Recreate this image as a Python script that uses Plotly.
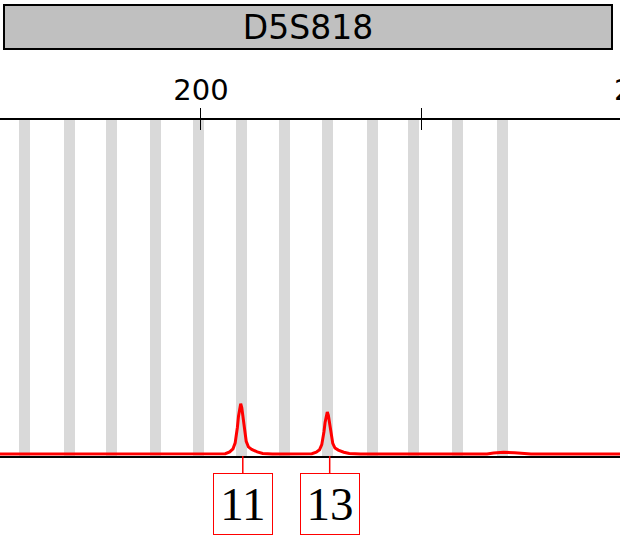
import plotly.graph_objects as go

# ---------------- data ----------------
marker_name = "D5S818"
x_range = [181.73, 238.09]          # bp visible
y_range = [0, 4000]                  # RFU

tick_vals = [200, 220]
tick_text = ["200", ""]
offscale_tick = 240

bin_alleles = ["6", "7", "8", "9", "10", "11", "12", "13", "14", "15", "16", "17"]
bin_bp = [183.96, 188.05, 191.91, 195.82, 199.73, 203.68,
          207.59, 211.50, 215.55, 219.34, 223.34, 227.44]

trace_bp = [181.73, 202.21, 202.61, 202.91, 203.11, 203.21, 203.31, 203.41, 203.51,
            203.61, 203.71, 203.81, 203.91, 204.01, 204.11, 204.31, 204.61, 205.11,
            205.61, 206.50,
            210.08, 210.48, 210.78, 210.98, 211.08, 211.18, 211.28, 211.38,
            211.48, 211.58, 211.68, 211.78, 211.88, 211.98, 212.18, 212.48,
            212.98, 213.48, 214.50,
            226.00, 226.60, 227.50, 228.50, 229.30, 230.00, 238.09]
trace_rfu = [25, 28, 49, 85, 157, 234, 342, 474, 575,
             623, 575, 474, 342, 234, 175, 109, 79, 49,
             31, 25,
             27, 45, 75, 135, 199, 289, 399, 483,
             523, 483, 399, 289, 199, 150, 95, 70,
             45, 30, 25,
             25, 35, 45, 38, 27, 25, 25]

allele_calls = ["11", "13"]
allele_call_bp = [203.80, 211.70]

# ---------------- figure ----------------
W, H = 620, 544
M_TOP, M_BOT = 120, 88

fig = go.Figure()

fig.add_trace(go.Bar(
    x=bin_bp, y=[y_range[1]] * len(bin_bp), width=1.0,
    marker=dict(color="#D9D9D9", line=dict(width=0)),
    hoverinfo="skip", showlegend=False,
))

fig.add_trace(go.Scatter(
    x=trace_bp, y=trace_rfu, mode="lines",
    line=dict(color="#FF0000", width=3),
    hoverinfo="skip", showlegend=False, cliponaxis=True,
))

# invisible trace on overlay axis so it is drawn
fig.add_trace(go.Scatter(x=[x_range[0]], y=[0], xaxis="x2", mode="markers",
                         marker=dict(opacity=0), showlegend=False, hoverinfo="skip"))

tick_font = dict(family="DejaVu Sans", size=29, color="black")

fig.update_layout(
    width=W, height=H,
    margin=dict(l=0, r=0, t=M_TOP, b=M_BOT, pad=0),
    paper_bgcolor="white", plot_bgcolor="white",
    bargap=0,
    xaxis=dict(
        range=x_range, side="top", showline=True, linecolor="black", linewidth=2,
        mirror=True, tickmode="array", tickvals=tick_vals, ticktext=tick_text,
        ticks="outside", ticklen=10, tickwidth=1, tickcolor="black",
        showgrid=False, zeroline=False, tickfont=tick_font, fixedrange=True,
        ticklabelstandoff=-4,
    ),
    xaxis2=dict(
        range=x_range, overlaying="x", side="top", tickmode="array",
        tickvals=tick_vals, ticks="inside", ticklen=10, tickwidth=1,
        tickcolor="black", showticklabels=False, showline=False,
        showgrid=False, zeroline=False, fixedrange=True,
    ),
    yaxis=dict(range=y_range, visible=False, fixedrange=True),
)

plot_h = H - M_TOP - M_BOT

# header box
fig.add_annotation(
    xref="paper", yref="paper", x=308 / W, y=1 + (M_TOP - 27) / plot_h,
    text=marker_name, showarrow=False,
    font=dict(family="DejaVu Sans", size=33, color="black"),
    bgcolor="#C0C0C0", bordercolor="black", borderwidth=2, borderpad=0,
    width=606, height=42, xanchor="center", yanchor="middle",
)

# partially visible next tick label
fig.add_annotation(
    xref="paper", yref="paper",
    x=(offscale_tick - x_range[0]) / (x_range[1] - x_range[0]),
    y=1 + (M_TOP - 90) / plot_h,
    text=str(offscale_tick), showarrow=False, font=tick_font,
    xanchor="center", yanchor="middle",
)

# allele call labels
for name, bp in zip(allele_calls, allele_call_bp):
    fig.add_annotation(
        x=bp, y=0, xref="x", yref="y", text=name,
        showarrow=True, arrowhead=0, arrowcolor="#FF0000", arrowwidth=1.5,
        ax=0, ay=48, standoff=0, startstandoff=0,
        font=dict(family="Liberation Serif", size=47, color="black"),
        bgcolor="white", bordercolor="#FF0000", borderwidth=1, borderpad=0,
        width=58, height=60,
    )

fig.write_html(
    "out.html",
    config={"displayModeBar": False, "staticPlot": True},
    post_script="document.body.style.margin='0';document.body.style.overflow='hidden';",
)
